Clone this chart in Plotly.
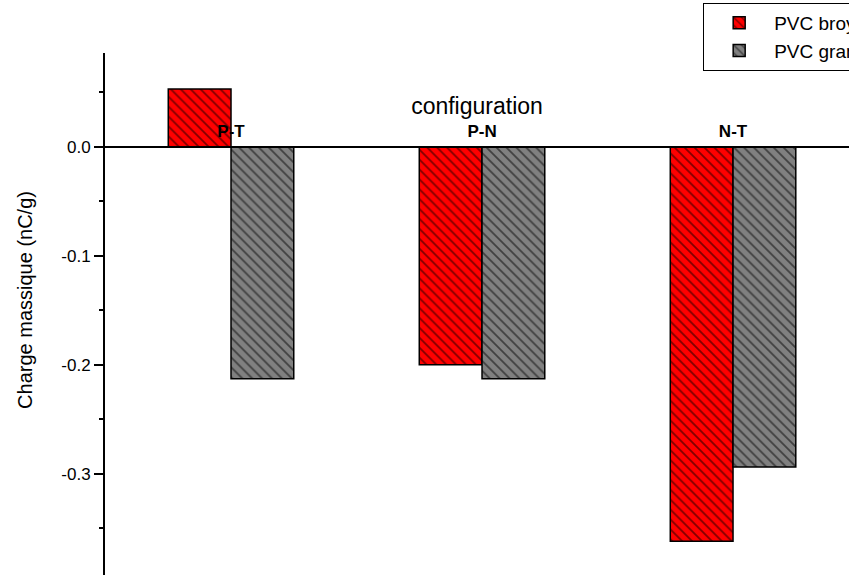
import plotly.graph_objects as go

# Tribocharging results: mass charge per configuration
configurations = ["P-T", "P-N", "N-T"]
pvc_broye = [0.053, -0.200, -0.362]
pvc_granule = [-0.213, -0.213, -0.294]

y_ticks = [0.0, -0.1, -0.2, -0.3]
y_tick_labels = ["0.0", "-0.1", "-0.2", "-0.3"]

y_min, y_max = -0.393, 0.086

fig = go.Figure()
fig.add_trace(go.Bar(
    x=configurations, y=pvc_broye, name="PVC broyé",
    marker=dict(color="#ff0000", line=dict(color="black", width=1.5),
                pattern=dict(shape="\\", fgcolor="black", size=7, solidity=0.25)),
))
fig.add_trace(go.Bar(
    x=configurations, y=pvc_granule, name="PVC granulé",
    marker=dict(color="#808080", line=dict(color="black", width=1.5),
                pattern=dict(shape="\\", fgcolor="black", size=7, solidity=0.25)),
))

font_family = "Arial, Liberation Sans, sans-serif"

fig.update_layout(
    width=849, height=575,
    margin=dict(l=105, r=0, t=53, b=0, autoexpand=False),
    paper_bgcolor="white", plot_bgcolor="white",
    barmode="group", bargap=0.5, bargroupgap=0,
    font=dict(family=font_family, color="black"),
    showlegend=True,
    legend=dict(x=0.804, y=1.096, xanchor="left", yanchor="top",
                bordercolor="black", borderwidth=1, bgcolor="white",
                font=dict(size=19, family=font_family, color="black"),
                itemwidth=60, tracegroupgap=0),
    xaxis=dict(
        range=[-0.502, 2.462],
        anchor="free", position=(0 - y_min) / (y_max - y_min), side="top",
        showline=True, linecolor="black", linewidth=1.5,
        ticks="", showgrid=False, zeroline=False,
        tickvals=configurations,
        ticktext=[f"<b>{c}</b>" for c in configurations],
        tickfont=dict(size=17, family=font_family),
        ticklabelstandoff=2,
        title=dict(text="configuration", font=dict(size=23, family=font_family), standoff=0),
    ),
    yaxis=dict(
        range=[y_min, y_max],
        showline=True, linecolor="black", linewidth=2,
        ticks="outside", ticklen=9, tickwidth=1.5, tickcolor="black",
        tickmode="array", tickvals=y_ticks, ticktext=y_tick_labels,
        tickfont=dict(size=17, family=font_family),
        minor=dict(ticks="outside", ticklen=4, tickwidth=1.5, tickcolor="black",
                   tickmode="linear", tick0=0, dtick=0.05, showgrid=False),
        showgrid=False, zeroline=False,
    ),
    annotations=[dict(
        text="Charge massique (nC/g)", textangle=-90,
        xref="paper", yref="paper", x=-0.1075, y=0.527,
        xanchor="center", yanchor="middle", showarrow=False,
        font=dict(size=20, family=font_family, color="black"),
    )],
)

fig.write_html("out.html")
